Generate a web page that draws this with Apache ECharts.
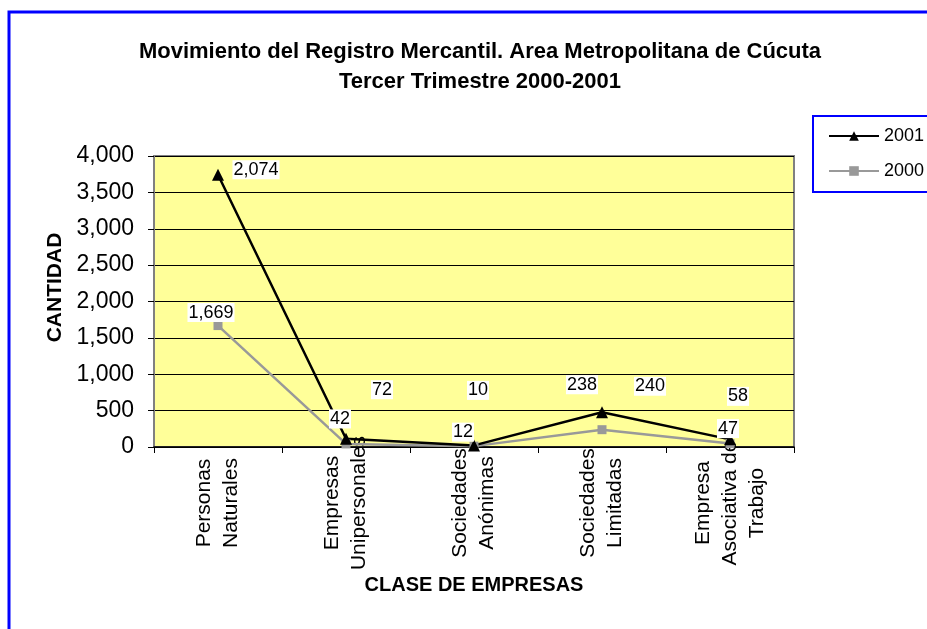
<!DOCTYPE html>
<html>
<head>
<meta charset="utf-8">
<script src="https://cdn.jsdelivr.net/npm/echarts@6/dist/echarts.min.js"></script>
<style>
html, body { margin: 0; padding: 0; background: #fff; }
#chart { width: 927px; height: 629px; }
</style>
</head>
<body>
<div id="chart"></div>
<script>
// data (2001 is stacked on 2000, like the original Excel chart)
const categories = ['Personas\nNaturales', 'Empresas\nUnipersonales', 'Sociedades\nAnónimas', 'Sociedades\nLimitadas', 'Empresa\nAsociativa de\nTrabajo']
const values2000 = [1669, 42, 12, 238, 47]
const values2001 = [2074, 72, 10, 240, 58]

// where each data label sits relative to its point (style only)
const offsets2001 = [[38, -5], [36, -49], [4, -55], [48, -26], [8, -43]]
const offsets2000 = [[-7, -13], [-6, -25], [-11, -14], [-20, -45], [-2, -15]]

const font = 'Liberation Sans, Arial, sans-serif'
const fmt = v => Number(v).toLocaleString('en-US')

function withLabels (values, offsets) {
    return values.map((v, i) => ({
        value: v,
        label: {offset: offsets[i]}
    }))
}

const labelStyle = {
    show: true,
    position: 'inside',
    formatter: p => fmt(p.value),
    color: '#000',
    fontFamily: font,
    fontSize: 18,
    backgroundColor: '#fff',
    padding: [1, 1, 0, 1]
}

const chart = echarts.init(document.getElementById('chart'))

const option = {
    backgroundColor: '#fff',
    animation: false,
    title: {
        text: 'Movimiento del Registro Mercantil. Area Metropolitana de Cúcuta\nTercer Trimestre 2000-2001',
        left: 475,
        top: 32,
        textAlign: 'center',
        textStyle: {
            fontFamily: font,
            fontSize: 22,
            fontWeight: 'bold',
            color: '#000',
            lineHeight: 30
        }
    },
    legend: {
        data: ['2001', '2000'],
        orient: 'vertical',
        left: 823,
        top: 122,
        itemWidth: 50,
        itemHeight: 12,
        itemGap: 17,
        textStyle: {fontFamily: font, fontSize: 18, color: '#000'}
    },
    graphic: [
        {
            type: 'rect',
            shape: {x: 9, y: 12, width: 1000, height: 700},
            style: {fill: 'none', stroke: '#0000ff', lineWidth: 3},
            silent: true
        },
        {
            type: 'rect',
            shape: {x: 813, y: 116, width: 200, height: 76},
            style: {fill: 'none', stroke: '#0000ff', lineWidth: 2},
            silent: true
        }
    ],
    grid: {
        left: 154,
        right: 133,
        top: 156,
        bottom: 182,
        show: true,
        backgroundColor: '#ffff99',
        borderColor: '#808080',
        borderWidth: 2
    },
    xAxis: {
        type: 'category',
        data: categories,
        boundaryGap: true,
        name: 'CLASE DE EMPRESAS',
        nameLocation: 'middle',
        nameGap: 128,
        nameTextStyle: {fontFamily: font, fontSize: 20, fontWeight: 'bold', color: '#000'},
        axisLine: {lineStyle: {color: '#000', width: 1.5}},
        axisTick: {show: true, length: 6, lineStyle: {color: '#000'}},
        axisLabel: {
            interval: 0,
            rotate: 90,
            align: 'center',
            verticalAlign: 'middle',
            margin: 56,
            fontFamily: font,
            fontSize: 21,
            lineHeight: 27,
            color: '#000'
        }
    },
    yAxis: {
        type: 'value',
        min: 0,
        max: 4000,
        interval: 500,
        name: 'CANTIDAD',
        nameLocation: 'middle',
        nameGap: 88,
        nameRotate: 90,
        nameTextStyle: {fontFamily: font, fontSize: 21, fontWeight: 'bold', color: '#000', padding: [0, 0, 0, 28]},
        axisLine: {show: true, lineStyle: {color: '#808080', width: 2}},
        axisTick: {show: true, length: 6, lineStyle: {color: '#000'}},
        axisLabel: {
            formatter: v => fmt(v),
            fontFamily: font,
            fontSize: 23,
            color: '#000',
            margin: 20
        },
        splitLine: {lineStyle: {color: '#000', width: 1}}
    },
    series: [
        {
            name: '2000',
            type: 'line',
            stack: 'total',
            data: withLabels(values2000, offsets2000),
            symbol: 'rect',
            symbolSize: 9,
            itemStyle: {color: '#999999'},
            lineStyle: {color: '#999999', width: 2.5},
            label: labelStyle
        },
        {
            name: '2001',
            type: 'line',
            stack: 'total',
            data: withLabels(values2001, offsets2001),
            symbol: 'triangle',
            symbolSize: 12,
            itemStyle: {color: '#000'},
            lineStyle: {color: '#000', width: 2.5},
            label: labelStyle
        }
    ]
}

chart.setOption(option)
</script>
</body>
</html>
